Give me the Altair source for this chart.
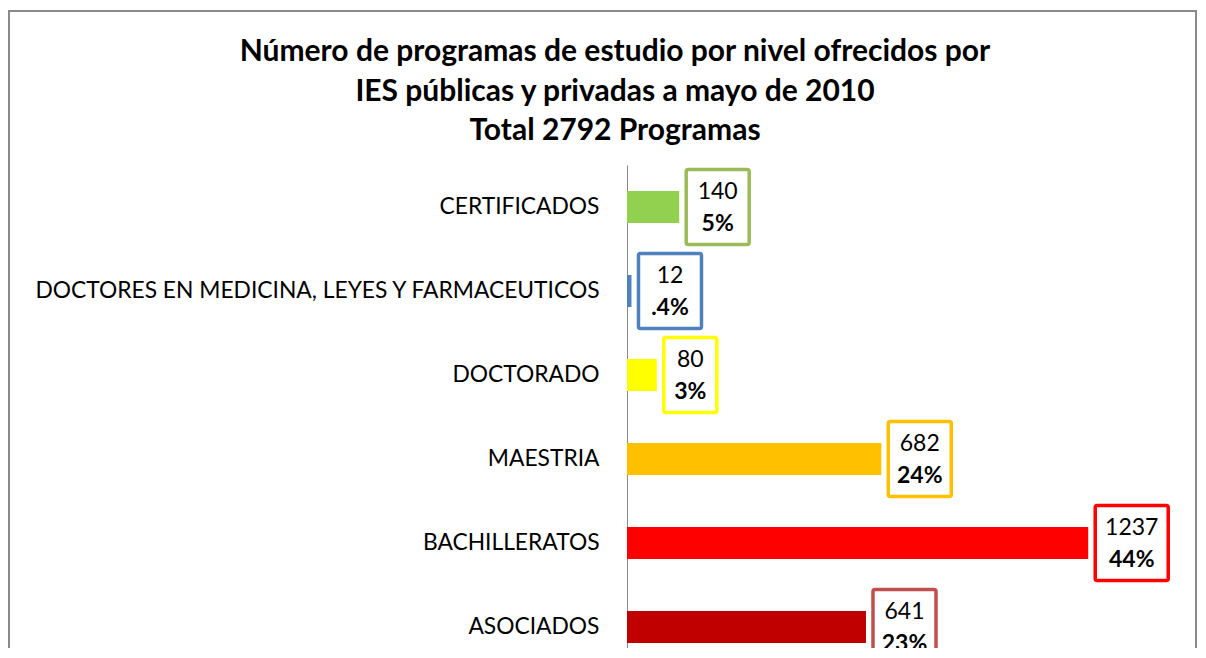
import altair as alt
import pandas as pd

# ---- data ----
categories = [
    "CERTIFICADOS",
    "DOCTORES EN MEDICINA, LEYES Y FARMACEUTICOS",
    "DOCTORADO",
    "MAESTRIA ",
    "BACHILLERATOS",
    "ASOCIADOS",
]
values = [140, 12, 80, 682, 1237, 641]
percents = ["5%", ".4%", "3%", "24%", "44%", "23%"]
bar_colors = ["#92D050", "#4F81BD", "#FFFF00", "#FFC000", "#FF0000", "#C00000"]
box_colors = ["#9BBB59", "#4F81BD", "#FFFF00", "#FFC000", "#FF0000", "#C0504D"]
title_lines = [
    "Número de programas de estudio por nivel ofrecidos por",
    "IES públicas y privadas a mayo de 2010",
    "Total 2792 Programas",
]

df = pd.DataFrame({
    "cat": categories,
    "value": values,
    "pct": percents,
    "bar": bar_colors,
    "box": box_colors,
})

FONT = "Lato"
W = 522
H = 483
XMAX = 1400
PX = XMAX / W  # data units per pixel

x_scale = alt.Scale(domain=[0, XMAX])
y_enc = alt.Y(
    "cat:N",
    sort=categories,
    scale=alt.Scale(range=[0, 504], paddingInner=0, paddingOuter=0),
    axis=alt.Axis(title=None, ticks=False, domainColor="#888888", domainWidth=1,
                  labelFont=FONT, labelFontSize=22.8, labelColor="#000000",
                  labelPadding=28, labelLimit=0),
)

base = alt.Chart(df).transform_calculate(
    n="max(length(toString(datum.value)), length(datum.pct))"
).transform_calculate(
    boxw="10 * datum.n + 33"
).transform_calculate(
    x1=f"datum.value + 7 * {PX}",
    x2=f"datum.value + (7 + datum.boxw) * {PX}",
).transform_calculate(
    xc="(datum.x1 + datum.x2) / 2"
)

bars = base.mark_bar(size=32).encode(
    x=alt.X("value:Q", scale=x_scale, axis=None),
    y=y_enc,
    color=alt.Color("bar:N", scale=None),
)

boxes = base.mark_bar(size=75, fill="white", strokeWidth=3.5, cornerRadius=2).encode(
    x=alt.X("x1:Q", scale=x_scale, axis=None),
    x2="x2:Q",
    y=y_enc,
    stroke=alt.Stroke("box:N", scale=None),
)

val_text = base.mark_text(dy=-15, fontSize=23, font=FONT, color="#000000").encode(
    x=alt.X("xc:Q", scale=x_scale, axis=None),
    y=y_enc,
    text="value:Q",
)

pct_text = base.mark_text(dy=17, fontSize=23, font=FONT, fontWeight="bold", color="#000000").encode(
    x=alt.X("xc:Q", scale=x_scale, axis=None),
    y=y_enc,
    text="pct:N",
)

one = alt.Data(values=[{"a": 1}])

border = alt.Chart(one).mark_rect(
    filled=False, stroke="#8A8A8A", strokeWidth=2
).encode(
    x=alt.value(-618), x2=alt.value(569), y=alt.value(-154), y2=alt.value(600)
)

title = alt.Chart(one).mark_text(
    font=FONT, fontSize=30, fontWeight="bold", color="#000000",
    align="center", baseline="middle", lineHeight=39.5,
).encode(
    x=alt.value(-12), y=alt.value(-113), text=alt.value(title_lines)
)

chart = alt.layer(border, title, bars, boxes, val_text, pct_text).properties(
    width=W,
    height=H,
    padding={"left": 619, "top": 157, "right": 49, "bottom": 0},
    autosize=alt.AutoSizeParams(type="none"),
).configure_view(strokeWidth=0)

chart.save("out.html", embed_options={"renderer": "svg", "actions": False})
